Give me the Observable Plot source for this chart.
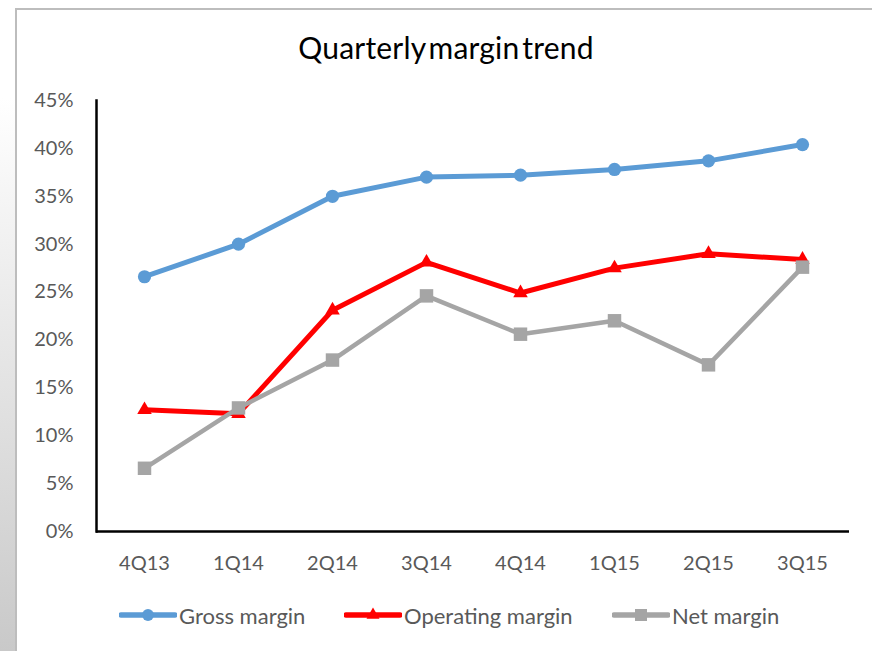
<!DOCTYPE html>
<html>
<head>
<meta charset="utf-8">
<script src="https://cdn.jsdelivr.net/npm/d3@7"></script>
<script src="https://cdn.jsdelivr.net/npm/@observablehq/plot@0.6"></script>
<style>
  html, body { margin: 0; padding: 0; background: #fff; }
  #wrap { position: relative; width: 872px; height: 651px; overflow: hidden;
    background: linear-gradient(to bottom, #ffffff 0%, #ffffff 15%, #c9c9c9 100%); }
  #panel { position: absolute; left: 15px; top: 8px; right: -10px; bottom: -10px; background: #fff;
    border-left: 2px solid #bdbdbd; border-top: 2px solid #bdbdbd; }
  #title { position: absolute; left: 0; width: 892px; top: 29px; text-align: center;
    font-family: Lato, sans-serif; font-size: 30px; color: #000; word-spacing: -5px; letter-spacing: 0.2px; }
  #chart { position: absolute; left: 0; top: 0; }
  #legend { position: absolute; top: 601px; left: 0; font-family: Lato, sans-serif; font-size: 22px; color: #595959; }
  .item { position: absolute; white-space: nowrap; display: flex; align-items: center; }
  .item svg { margin-right: 2px; }
</style>
</head>
<body>
<div id="wrap">
  <div id="panel"></div>
  <div id="title">Quarterly margin trend</div>
  <div id="chart"></div>
  <div id="legend"></div>
</div>
<script>
const quarters = ["4Q13", "1Q14", "2Q14", "3Q14", "4Q14", "1Q15", "2Q15", "3Q15"];
const grossMargin = [0.266, 0.300, 0.350, 0.370, 0.372, 0.378, 0.387, 0.404];
const operatingMargin = [0.127, 0.123, 0.231, 0.281, 0.249, 0.275, 0.290, 0.284];
const netMargin = [0.066, 0.129, 0.179, 0.246, 0.206, 0.220, 0.174, 0.276];
const yTicks = [0, 0.05, 0.10, 0.15, 0.20, 0.25, 0.30, 0.35, 0.40, 0.45];

const seriesNames = ["Gross margin", "Operating margin", "Net margin"];
const seriesValues = [grossMargin, operatingMargin, netMargin];
const seriesColors = ["#5B9BD5", "#FF0000", "#A5A5A5"];
const seriesSymbols = ["circle", "triangle", "square"];
const seriesR = [6.6, 5.4, 7.6];
const seriesWidth = [5, 5, 4.5];

const data = seriesNames.flatMap((s, i) => quarters.map((q, j) => ({series: s, q, v: seriesValues[i][j]})));

const marks = [];
seriesNames.forEach((s, i) => {
  const d = data.filter(r => r.series === s);
  marks.push(Plot.line(d, {x: "q", y: "v", stroke: seriesColors[i], strokeWidth: seriesWidth[i], strokeLinejoin: "round"}));
  marks.push(Plot.dot(d, {x: "q", y: "v", fill: seriesColors[i], symbol: seriesSymbols[i], r: seriesR[i], stroke: "none"}));
});

const chart = Plot.plot({
  width: 872,
  height: 651,
  marginLeft: 96,
  marginRight: 23,
  marginTop: 100,
  marginBottom: 120,
  style: {background: "transparent", fontFamily: "Lato, sans-serif", fontSize: "20px", color: "#595959", overflow: "visible"},
  x: {type: "point", domain: quarters, padding: 0.5, label: null},
  y: {domain: [0, 0.45], label: null},
  marks: [
    Plot.axisY({ticks: yTicks, tickFormat: d3.format(".0%"), tickSize: 0, tickPadding: 23, fontSize: 20, fill: "#595959", label: null}),
    Plot.axisX({tickSize: 0, tickPadding: 24, fontSize: 20, fill: "#595959", label: null}),
    ...marks,
    Plot.ruleY([0], {stroke: "#000", strokeWidth: 2.5}),
    Plot.frame({anchor: "left", stroke: "#000", strokeWidth: 2.5})
  ]
});
document.getElementById("chart").appendChild(chart);

// legend
const legend = document.getElementById("legend");
const legendX = [119, 344, 612];
seriesNames.forEach((s, i) => {
  const item = document.createElement("div");
  item.className = "item";
  item.style.left = legendX[i] + "px";
  const sw = d3.create("svg").attr("width", 58).attr("height", 28);
  sw.append("line").attr("x1", 2).attr("x2", 56).attr("y1", 14).attr("y2", 14)
    .attr("stroke", seriesColors[i]).attr("stroke-width", 5.5).attr("stroke-linecap", "round");
  sw.append("path").attr("transform", "translate(29,14)")
    .attr("d", d3.symbol(i === 0 ? d3.symbolCircle : i === 1 ? d3.symbolTriangle : d3.symbolSquare, Math.PI * seriesR[i] * seriesR[i] * 0.8)())
    .attr("fill", seriesColors[i]);
  item.appendChild(sw.node());
  const t = document.createElement("span");
  t.textContent = s;
  item.appendChild(t);
  legend.appendChild(item);
});
</script>
</body>
</html>
